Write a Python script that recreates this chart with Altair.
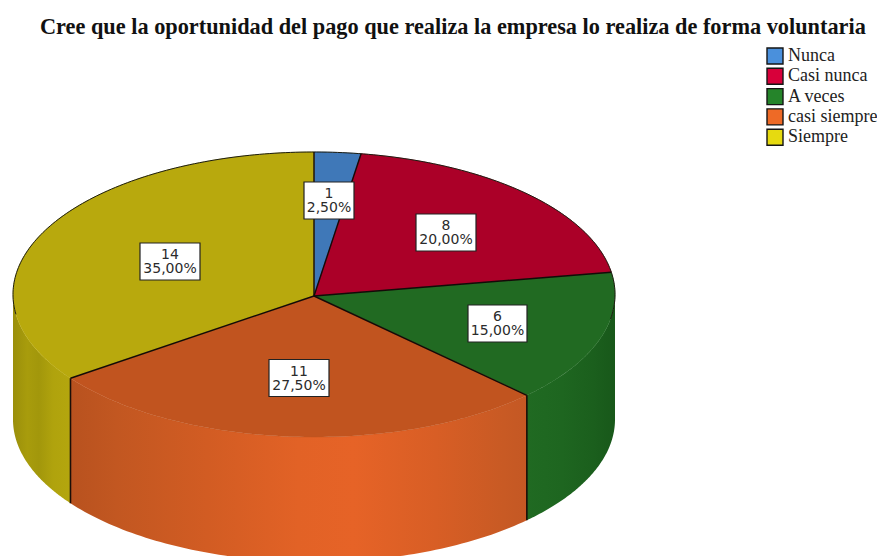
import numpy as np
import pandas as pd
import altair as alt

TITLE = "Cree que la oportunidad del pago que realiza la empresa lo realiza de forma voluntaria"
categories = ["Nunca", "Casi nunca", "A veces", "casi siempre", "Siempre"]
counts = [1, 8, 6, 11, 14]
percent_labels = ["2,50%", "20,00%", "15,00%", "27,50%", "35,00%"]
top_colors = ["#3f78b8", "#ab0028", "#216a22", "#c1541f", "#b8a90d"]
legend_colors = ["#4a90dc", "#d8003a", "#25842a", "#ee6a26", "#e6da10"]

# Canvas geometry of the drawing (page pixels)
CX, CY, RX, RY, DEPTH = 314, 294.5, 301, 142.5, 125
APEX_Y = 296
box_x = [329, 446, 497.5, 299, 170]
box_y = [200.5, 232.5, 323.5, 378, 261.5]
box_w = [50, 60, 59, 60, 60]

total = sum(counts)
edges = np.concatenate([[0], np.cumsum(counts)]) / total * 360.0


def ex(a):
    return CX + RX * np.sin(np.radians(a))


def ey(a):
    return CY - RY * np.cos(np.radians(a))


def arc(a0, a1, n=90):
    return np.linspace(a0, a1, n)


X = alt.X("x:Q", scale=alt.Scale(domain=[8, 877], nice=False, zero=False), axis=None)
Y = alt.Y("y:Q", scale=alt.Scale(domain=[556, 48], nice=False, zero=False), axis=None)


def grad(stops):
    return alt.LinearGradient(
        gradient="linear", x1=0, x2=1, y1=0, y2=0,
        stops=[alt.GradientStop(offset=o, color=c) for o, c in stops],
    )


layers = []

# Side walls of the cylinder, only the front half shows
side_specs = [
    (edges[4], 270, [(0, "#9a8f0b"), (0.25, "#a89c0c"), (0.45, "#a2970b"), (0.7, "#b0a30d"), (1, "#b4a60e")]),
    (edges[3], edges[4], [(0, "#b8521f"), (0.1, "#c25721"), (0.3, "#d25c23"), (0.5, "#e26226"),
                          (0.62, "#e66327"), (0.8, "#d85e25"), (0.95, "#c85a24"), (1, "#c45824")]),
    (90, edges[3], [(0, "#206a22"), (0.4, "#1e6620"), (0.75, "#1b5f1d"), (1, "#18581a")]),
]
for a0, a1, stops in side_specs:
    t = arc(a0, a1)
    df = pd.DataFrame({"x": ex(t), "y": ey(t), "y2": ey(t) + DEPTH})
    layers.append(
        alt.Chart(df).mark_area(clip=True, fill=grad(stops), stroke=None, orient="vertical")
        .encode(X, Y, y2="y2:Q")
    )

# Top face wedges
for i, c in enumerate(top_colors):
    t = arc(edges[i], edges[i + 1])
    xs = np.concatenate([[CX], ex(t), [CX]])
    ys = np.concatenate([[APEX_Y], ey(t), [APEX_Y]])
    df = pd.DataFrame({"x": xs, "y": ys, "seq": range(len(xs))})
    layers.append(
        alt.Chart(df).mark_line(clip=True, fill=c, stroke=c, strokeWidth=0.5)
        .encode(X, Y, order="seq:Q")
    )

# Back rim of the top face
t = arc(-98, 100, 200)
rim = pd.DataFrame({"x": ex(t), "y": ey(t), "seq": range(len(t))})
layers.append(
    alt.Chart(rim).mark_line(clip=True, stroke="#1c1c10", strokeWidth=1)
    .encode(X, Y, order="seq:Q")
)

# Radial separators
for i in range(5):
    a = edges[i]
    df = pd.DataFrame({"x": [CX, ex(a)], "y": [APEX_Y, ey(a)], "seq": [0, 1]})
    layers.append(
        alt.Chart(df).mark_line(clip=True, stroke="#140a08", strokeWidth=1.4)
        .encode(X, Y, order="seq:Q")
    )

# Vertical edges on the wall
for a in (edges[3], edges[4]):
    df = pd.DataFrame({"x": [ex(a)], "y": [ey(a)], "y2": [ey(a) + DEPTH]})
    layers.append(
        alt.Chart(df).mark_rule(clip=True, stroke="#1a0f08", strokeWidth=1.6)
        .encode(X, Y, y2="y2:Q")
    )

# Value labels
labels = pd.DataFrame({
    "x": box_x, "y": box_y, "w": box_w,
    "label": [f"{c}\n{p}" for c, p in zip(counts, percent_labels)],
})
for w in sorted(set(box_w)):
    layers.append(
        alt.Chart(labels[labels.w == w]).mark_rect(
            width=w, height=37, fill="white", stroke="#222222", strokeWidth=1.2
        ).encode(X, Y)
    )
layers.append(
    alt.Chart(labels).mark_text(
        font="DejaVu Sans", fontSize=14, lineHeight=14, lineBreak="\n",
        color="#2b2b2b", align="center", baseline="middle", dy=-6.5,
    ).encode(X, Y, text="label:N")
)

# Legend carrier
legend_df = pd.DataFrame({"x": [CX] * 5, "y": [CY] * 5, "cat": categories})
layers.append(
    alt.Chart(legend_df).mark_square(size=0, filled=True).encode(
        X, Y,
        fill=alt.Fill(
            "cat:N",
            sort=categories,
            scale=alt.Scale(domain=categories, range=legend_colors),
            legend=alt.Legend(
                title=None, orient="none", legendX=758, legendY=-1,
                symbolType="square", symbolSize=256,
                symbolStrokeColor="#151515", symbolStrokeWidth=1.4, symbolOpacity=1,
                labelFont="Liberation Serif", labelFontSize=18, labelColor="#222222",
                labelOffset=4, rowPadding=-1.7, padding=0,
                labelLimit=200,
            ),
        ),
    )
)

chart = alt.layer(*layers).properties(
    width=869, height=508,
    padding={"left": 0, "top": 40, "right": 0, "bottom": 0},
    autosize=alt.AutoSizeParams(type="none"),
    title=alt.TitleParams(
        TITLE, anchor="start", dx=32, dy=25, offset=16, orient="top",
        font="Liberation Serif", fontSize=22.3, fontWeight="bold", color="#111111",
        frame="group", baseline="alphabetic",
    ),
    background="white",
).configure_view(stroke=None)

chart.save("out.html", embed_options={"renderer": "svg", "actions": False})
